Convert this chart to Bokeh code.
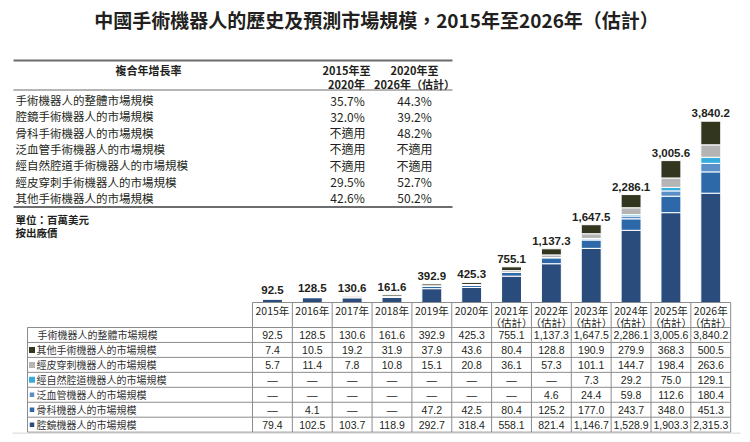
from bokeh.plotting import figure
from bokeh.models import Range1d, ColumnDataSource
from bokeh.core.properties import value
from bokeh.embed import file_html
from bokeh.resources import INLINE

# ---------------- data ----------------
title = "中國手術機器人的歷史及預測市場規模，2015年至2026年（估計）"
years = ["2015年", "2016年", "2017年", "2018年", "2019年", "2020年",
         "2021年", "2022年", "2023年", "2024年", "2025年", "2026年"]
estimated = [False] * 6 + [True] * 6
total = [92.5, 128.5, 130.6, 161.6, 392.9, 425.3, 755.1, 1137.3, 1647.5, 2286.1, 3005.6, 3840.2]
other = [7.4, 10.5, 19.2, 31.9, 37.9, 43.6, 80.4, 128.8, 190.9, 279.9, 368.3, 500.5]
percutaneous = [5.7, 11.4, 7.8, 10.8, 15.1, 20.8, 36.1, 57.3, 101.1, 144.7, 198.4, 263.6]
natural_orifice = [None, None, None, None, None, None, None, None, 7.3, 29.2, 75.0, 129.1]
panvascular = [None, None, None, None, None, None, None, 4.6, 24.4, 59.8, 112.6, 180.4]
orthopedic = [None, 4.1, None, None, 47.2, 42.5, 80.4, 125.2, 177.0, 243.7, 348.0, 451.3]
laparoscopic = [79.4, 102.5, 103.7, 118.9, 292.7, 318.4, 558.1, 821.4, 1146.7, 1528.9, 1903.3, 2315.3]

row_labels = ["手術機器人的整體市場規模", "其他手術機器人的市場規模", "經皮穿刺機器人的市場規模",
              "經自然腔道機器人的市場規模", "泛血管機器人的市場規模", "骨科機器人的市場規模",
              "腔鏡機器人的市場規模"]

cagr_header = "複合年增長率"
cagr_period_a = ["2015年至", "2020年"]
cagr_period_b = ["2020年至", "2026年（估計）"]
cagr_labels = ["手術機器人的整體市場規模", "腔鏡手術機器人的市場規模", "骨科手術機器人的市場規模",
               "泛血管手術機器人的市場規模", "經自然腔道手術機器人的市場規模",
               "經皮穿刺手術機器人的市場規模", "其他手術機器人的市場規模"]
cagr_2015_2020 = ["35.7%", "32.0%", "不適用", "不適用", "不適用", "29.5%", "42.6%"]
cagr_2020_2026 = ["44.3%", "39.2%", "48.2%", "不適用", "不適用", "52.7%", "50.2%"]
unit_note = ["單位：百萬美元", "按出廠價"]

# ---------------- style ----------------
C_LAP = "#2a4c7d"
C_ORTHO = "#2d69a8"
C_PAN = "#5b8fc7"
C_NAT = "#38acdc"
C_PERC = "#b4b4b4"
C_OTHER = "#33361f"
TXT = "#231f20"
CJK = "Noto Sans CJK TC"
LAT = "Liberation Sans"

W, H = 750, 442
p = figure(width=W, height=H, output_backend="svg", toolbar_location=None,
           x_range=Range1d(0, W), y_range=Range1d(H, 0),
           min_border=0, outline_line_color=None)
p.axis.visible = False
p.grid.visible = False
p.background_fill_color = "white"
p.border_fill_color = "white"

# layout of the chart / table
COL0, COLW = 252.0, 39.85
BASE_Y, TOP_Y = 302.0, 120.7
PX_PER_UNIT = (BASE_Y - TOP_Y) / max(total)
p.extra_x_ranges = {"col": Range1d((0 - COL0) / COLW - 0.5, (W - COL0) / COLW - 0.5)}
p.extra_y_ranges = {"val": Range1d((BASE_Y - H) / PX_PER_UNIT, (BASE_Y - 0) / PX_PER_UNIT)}

# ---------------- title ----------------
p.text(x=[376], y=[19], text=[title], text_align="center", text_baseline="middle",
       text_font=value(CJK), text_font_style="bold", text_font_size="19px", text_color=TXT)

# ---------------- CAGR table ----------------
TL, TR = 13, 452
p.segment(x0=[TL], y0=[60], x1=[TR], y1=[60], line_color="#6d6d6d", line_width=2)
p.segment(x0=[TL], y0=[89.5], x1=[TR], y1=[89.5], line_color="#6d6d6d", line_width=1.2)
p.segment(x0=[TL], y0=[206.5], x1=[TR], y1=[206.5], line_color="#6d6d6d", line_width=2)
p.text(x=[148], y=[69], text=[cagr_header], text_align="center", text_baseline="middle",
       text_font=value(CJK), text_font_style="bold", text_font_size="11px", text_color=TXT)
p.text(x=[346, 346], y=[69, 83], text=cagr_period_a, text_align="center", text_baseline="middle",
       text_font=value(CJK), text_font_style="bold", text_font_size="11px", text_color=TXT)
p.text(x=[414, 414], y=[69, 83], text=cagr_period_b, text_align="center", text_baseline="middle",
       text_font=value(CJK), text_font_style="bold", text_font_size="11px", text_color=TXT)
row_y = [99.5 + 16.3 * i for i in range(len(cagr_labels))]
p.text(x=[15] * len(cagr_labels), y=row_y, text=cagr_labels, text_align="left", text_baseline="middle",
       text_font=value(CJK), text_font_size="11.5px", text_color=TXT)
p.text(x=[347] * len(row_y), y=row_y, text=cagr_2015_2020, text_align="center", text_baseline="middle",
       text_font=value(CJK), text_font_size="12px", text_color=TXT)
p.text(x=[414] * len(row_y), y=row_y, text=cagr_2020_2026, text_align="center", text_baseline="middle",
       text_font=value(CJK), text_font_size="12px", text_color=TXT)
p.text(x=[15, 15], y=[219, 232], text=unit_note, text_align="left", text_baseline="middle",
       text_font=value(CJK), text_font_style="bold", text_font_size="10.5px", text_color=TXT)

# ---------------- stacked bars ----------------
z = lambda arr: [0.0 if v is None else v for v in arr]
src = ColumnDataSource(dict(
    i=list(range(len(years))), total=total,
    lap=z(laparoscopic), ortho=z(orthopedic), pan=z(panvascular),
    nat=z(natural_orifice), perc=z(percutaneous), oth=z(other),
    label=[f"{v:,.1f}" for v in total]))
p.vbar_stack(["lap", "ortho", "pan", "nat", "perc", "oth"], x="i", width=0.5, source=src,
             color=[C_LAP, C_ORTHO, C_PAN, C_NAT, C_PERC, C_OTHER],
             line_color="white", line_width=1,
             x_range_name="col", y_range_name="val")
p.text(x="i", y="total", text="label", source=src, x_range_name="col", y_range_name="val",
       text_align="center", text_baseline="bottom", y_offset=-4,
       text_font=value(LAT), text_font_style="bold", text_font_size="11.5px", text_color=TXT)

# ---------------- data table ----------------
n = len(years)
LINE = "#8c8c8c"
TBL_L = 27
HDR_B = 327.0
RH = 14.95
row_lines = [HDR_B + RH * k for k in range(len(row_labels) + 1)]
TBL_B = row_lines[-1]
TBL_R = COL0 + COLW * n
p.segment(x0=[TBL_L] * len(row_lines), y0=row_lines, x1=[TBL_R] * len(row_lines), y1=row_lines,
          line_color=LINE, line_width=1)
p.segment(x0=[COL0], y0=[BASE_Y], x1=[TBL_R], y1=[BASE_Y], line_color=LINE, line_width=1)
p.segment(x0=[TBL_L], y0=[HDR_B], x1=[TBL_L], y1=[TBL_B], line_color=LINE, line_width=1)
p.segment(x0=[TBL_L - 15], y0=[TBL_B + 1], x1=[TBL_R + 10], y1=[TBL_B + 1], line_color="#d5d5d5", line_width=1)
xb = [k - 0.5 for k in range(n + 1)]
p.segment(x0=xb, y0=[BASE_Y] * len(xb), x1=xb, y1=[TBL_B] * len(xb), x_range_name="col",
          line_color=LINE, line_width=1)

# header year labels
p.text(x=list(range(n)), y=[309.5] * n, text=years, x_range_name="col",
       text_align="center", text_baseline="middle",
       text_font=value(CJK), text_font_size="10.5px", text_color=TXT)
est_i = [k for k in range(n) if estimated[k]]
p.text(x=est_i, y=[321.5] * len(est_i), text=["（估計）"] * len(est_i), x_range_name="col",
       text_align="center", text_baseline="middle",
       text_font=value(CJK), text_font_size="10.5px", text_color=TXT)

# row labels with colour keys
row_mid = [HDR_B + RH * (k + 0.5) for k in range(len(row_labels))]
p.text(x=[37] + [36] * (len(row_labels) - 1), y=row_mid, text=row_labels,
       text_align="left", text_baseline="middle",
       text_font=value(CJK), text_font_size="10px", text_color="#333333")
key_colors = [C_OTHER, C_PERC, C_NAT, C_PAN, C_ORTHO, C_LAP]
key_sizes = [6, 6, 6, 4.5, 4.5, 4.5]
p.scatter(x=[31.5] * 6, y=row_mid[1:], marker="square", size=key_sizes,
          fill_color=key_colors, line_color=None)

# table values
series_rows = [total, other, percutaneous, natural_orifice, panvascular, orthopedic, laparoscopic]
vx, vy, vt = [], [], []
for r, arr in enumerate(series_rows):
    for k, v in enumerate(arr):
        vx.append(k)
        vy.append(row_mid[r])
        vt.append("—" if v is None else f"{v:,.1f}")
p.text(x=vx, y=vy, text=vt, x_range_name="col", text_align="center", text_baseline="middle",
       text_font=value(LAT), text_font_size="10.5px", text_color=TXT)

open("out.html", "w").write(file_html(p, INLINE))
